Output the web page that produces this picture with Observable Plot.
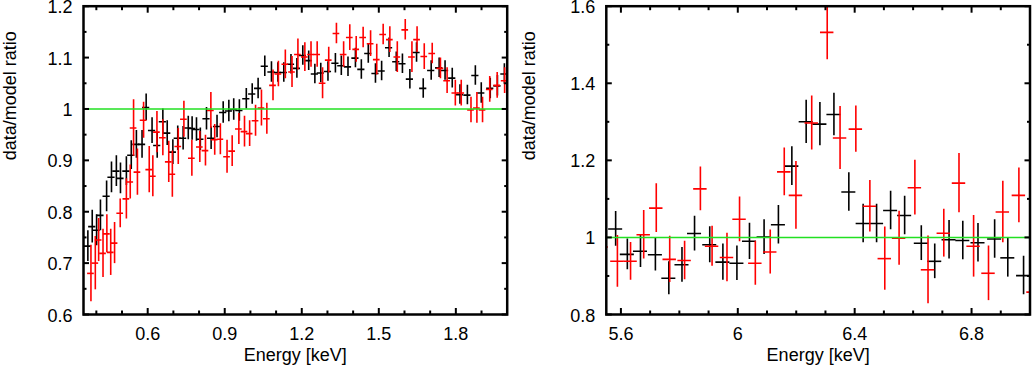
<!DOCTYPE html>
<html>
<head>
<meta charset="utf-8">
<script src="https://cdn.jsdelivr.net/npm/d3@7"></script>
<script src="https://cdn.jsdelivr.net/npm/@observablehq/plot@0.6"></script>
<style>
html, body { margin: 0; padding: 0; background: #fff; }
#wrap { position: relative; width: 1032px; height: 370px; overflow: hidden; background: #fff; }
#wrap svg { position: absolute; top: 0; }
</style>
</head>
<body>
<div id="wrap"></div>
<script>
// ---------- Left panel (0.35–2 keV) ----------
const leftXDomain = [0.35, 2.0];
const leftYDomain = [0.6, 1.2];
const leftXMajor = [0.6, 0.9, 1.2, 1.5, 1.8];
const leftXLabels = ["0.6", "0.9", "1.2", "1.5", "1.8"];
const leftXMinor = [0.4, 0.5, 0.7, 0.8, 1.0, 1.1, 1.3, 1.4, 1.6, 1.7, 1.9];
const leftYMajor = [0.6, 0.7, 0.8, 0.9, 1.0, 1.1, 1.2];
const leftYLabels = ["0.6", "0.7", "0.8", "0.9", "1", "1.1", "1.2"];
const leftYMinor = [0.65, 0.75, 0.85, 0.95, 1.05, 1.15];

const leftBlackE = [0.367,0.384,0.401,0.416,0.440,0.459,0.478,0.494,0.517,0.536,0.556,0.578,
  0.594,0.617,0.637,0.659,0.676,0.698,0.717,0.738,0.758,0.773,
  0.790,0.805,0.829,0.847,0.870,0.894,0.916,0.935,0.957,0.984,
  1.007,1.030,1.056,1.082,1.107,1.130,1.158,1.181,1.204,1.227,
  1.251,1.274,1.302,1.331,1.354,1.380,1.409,1.432,1.459,1.487,
  1.511,1.540,1.568,1.592,1.621,1.647,1.673,1.704,1.735,1.758,
  1.786,1.816,1.845,1.876,1.899,1.934,1.962,1.989];
const leftBlackR = [0.733,0.771,0.764,0.793,0.830,0.867,0.879,0.865,0.879,0.910,0.931,0.931,
  1.003,0.958,0.929,0.975,0.953,0.916,0.943,0.943,0.963,0.962,
  0.960,0.941,0.981,0.943,0.966,0.993,0.996,0.999,0.997,1.020,
  1.029,1.040,1.083,1.072,1.071,1.071,1.087,1.079,1.104,1.094,
  1.068,1.070,1.073,1.089,1.084,1.082,1.099,1.077,1.108,1.069,
  1.074,1.119,1.092,1.088,1.058,1.110,1.040,1.075,1.080,1.075,
  1.060,1.028,1.027,1.065,1.031,1.040,1.045,1.068];
const leftBlackErr = [0.030,0.032,0.030,0.030,0.030,0.030,0.030,0.030,0.028,0.028,0.027,0.027,
  0.026,0.025,0.025,0.025,0.024,0.024,0.024,0.023,0.023,0.023,
  0.023,0.022,0.022,0.022,0.022,0.021,0.021,0.021,0.021,0.020,
  0.020,0.020,0.020,0.020,0.019,0.019,0.019,0.019,0.019,0.019,
  0.019,0.019,0.019,0.019,0.019,0.019,0.019,0.019,0.019,0.019,
  0.019,0.019,0.019,0.019,0.019,0.019,0.019,0.019,0.019,0.019,
  0.019,0.019,0.019,0.019,0.020,0.020,0.020,0.020];
const leftBlackXErr = 0.014;

const leftRedE = [0.379,0.396,0.409,0.426,0.441,0.456,0.471,0.493,0.517,0.532,
  0.545,0.560,0.584,0.606,0.620,0.636,0.659,0.682,0.696,0.719,
  0.741,0.772,0.803,0.825,0.846,0.861,0.883,0.909,0.929,0.955,
  0.977,0.997,1.020,1.043,1.064,1.088,1.109,1.136,1.162,1.185,
  1.212,1.236,1.260,1.281,1.305,1.335,1.363,1.387,1.412,1.439,
  1.468,1.492,1.517,1.543,1.572,1.603,1.629,1.649,1.677,1.708,
  1.740,1.766,1.798,1.821,1.859,1.882,1.904,1.932,1.961,1.990];
const leftRedR = [0.680,0.700,0.745,0.719,0.757,0.721,0.739,0.797,0.825,0.858,
  0.963,0.877,0.978,0.882,0.869,0.955,0.944,0.897,0.873,0.927,
  0.980,0.904,0.926,0.919,0.997,0.940,0.941,0.907,0.918,0.961,
  0.956,0.952,0.977,1.002,0.981,1.046,1.068,1.087,1.072,1.106,
  1.101,1.106,1.106,1.050,1.095,1.147,1.106,1.139,1.116,1.139,
  1.127,1.096,1.145,1.135,1.101,1.154,1.101,1.135,1.102,1.108,
  1.079,1.055,1.031,1.031,0.998,1.002,0.998,1.038,1.046,1.055];
const leftRedErr = [0.055,0.052,0.042,0.047,0.037,0.045,0.040,0.028,0.039,0.033,
  0.055,0.045,0.035,0.045,0.040,0.040,0.035,0.040,0.045,0.035,
  0.035,0.035,0.030,0.030,0.035,0.030,0.030,0.032,0.030,0.030,
  0.030,0.025,0.030,0.035,0.030,0.030,0.025,0.028,0.030,0.030,
  0.028,0.025,0.025,0.030,0.025,0.020,0.025,0.025,0.025,0.020,
  0.025,0.030,0.020,0.025,0.030,0.020,0.030,0.025,0.025,0.020,
  0.020,0.025,0.025,0.025,0.025,0.030,0.025,0.025,0.025,0.025];
const leftRedXErr = 0.013;

// ---------- Right panel (5.55–7 keV) ----------
const rightXDomain = [5.55, 7.0];
const rightYDomain = [0.8, 1.6];
const rightXMajor = [5.6, 6.0, 6.4, 6.8];
const rightXLabels = ["5.6", "6", "6.4", "6.8"];
const rightXMinor = [5.7, 5.8, 5.9, 6.1, 6.2, 6.3, 6.5, 6.6, 6.7, 6.9];
const rightYMajor = [0.8, 1.0, 1.2, 1.4, 1.6];
const rightYLabels = ["0.8", "1", "1.2", "1.4", "1.6"];
const rightYMinor = [0.9, 1.1, 1.3, 1.5];

const rightBlackE = [5.582,5.622,5.667,5.718,5.764,5.809,5.852,5.904,5.949,5.997,
  6.040,6.090,6.139,6.185,6.234,6.281,6.329,6.380,6.429,6.475,
  6.523,6.571,6.628,6.674,6.723,6.770,6.822,6.879,6.924,6.978];
const rightBlackR = [1.022,0.956,0.964,0.955,0.894,0.929,1.010,0.981,0.936,0.933,
  0.990,1.001,1.033,1.185,1.300,1.294,1.319,1.118,1.036,1.036,
  1.070,1.057,0.985,0.938,0.994,0.992,0.986,0.996,0.947,0.901];
const rightBlackErr = [0.045,0.040,0.042,0.042,0.043,0.045,0.045,0.047,0.047,0.045,
  0.047,0.045,0.050,0.050,0.056,0.056,0.055,0.050,0.050,0.050,
  0.050,0.050,0.045,0.045,0.050,0.050,0.050,0.050,0.050,0.050];
const rightBlackXErr = 0.024;

const rightRedE = [5.534,5.588,5.633,5.678,5.721,5.767,5.818,5.872,5.912,5.963,
  6.006,6.060,6.111,6.159,6.199,6.253,6.306,6.350,6.404,6.452,
  6.503,6.552,6.606,6.651,6.705,6.757,6.807,6.858,6.907,6.962,7.012];
const rightRedR = [0.975,0.938,0.938,1.007,1.076,0.943,0.940,1.126,0.977,0.948,
  1.047,0.933,0.962,1.170,1.109,1.297,1.532,1.258,1.281,1.081,
  0.945,0.998,1.129,0.916,1.011,1.141,0.977,0.907,1.066,1.109,0.858];
const rightRedErr = [0.050,0.067,0.049,0.063,0.063,0.060,0.050,0.057,0.052,0.063,
  0.058,0.057,0.057,0.062,0.088,0.070,0.071,0.082,0.060,0.067,
  0.082,0.070,0.071,0.088,0.062,0.077,0.080,0.071,0.080,0.071,0.070];
const rightRedXErr = 0.023;

const refLevel = [1];
const xTitle = "Energy [keV]";
const yTitle = "data/model ratio";

// ---------- drawing ----------
const BLACK = "#000000";
const RED = "#ff0000";
const GREEN = "#22e022";
const FONT = "'Liberation Sans', Arial, Helvetica, sans-serif";

function rows(E, R, Err) {
  return E.map((e, i) => ({e, r: R[i], err: Err[i]}));
}

function crosses(data, xe, color) {
  return [
    Plot.ruleY(data, {y: "r", x1: d => d.e - xe, x2: d => d.e + xe, stroke: color, strokeWidth: 1.6, clip: true}),
    Plot.ruleX(data, {x: "e", y1: d => d.r - d.err, y2: d => d.r + d.err, stroke: color, strokeWidth: 1.6, clip: true})
  ];
}

function panel(o) {
  const xfmt = d => o.xLabels[o.xMajor.indexOf(d)];
  const yfmt = d => o.yLabels[o.yMajor.indexOf(d)];
  return Plot.plot({
    width: 516,
    height: 370,
    marginLeft: o.marginLeft,
    marginRight: o.marginRight,
    marginTop: 5.7,
    marginBottom: 56,
    style: {fontFamily: FONT, fontSize: "18px", color: "#000", background: "white", overflow: "visible"},
    x: {domain: o.xDomain, label: null},
    y: {domain: o.yDomain, label: null},
    marks: [
      ...crosses(o.black, o.xeB, BLACK),
      ...crosses(o.red, o.xeR, RED),
      Plot.ruleY(refLevel, {stroke: GREEN, strokeWidth: 1.6}),
      Plot.frame({stroke: BLACK, strokeWidth: 2.5}),
      // tick marks (inward, mirrored on all sides)
      Plot.axisX(o.xMajor, {anchor: "bottom", tickSize: -6, strokeWidth: 2, fill: "none"}),
      Plot.axisX(o.xMajor, {anchor: "top", tickSize: -6, strokeWidth: 2, fill: "none"}),
      Plot.axisX(o.xMinor, {anchor: "bottom", tickSize: -3.5, strokeWidth: 2, fill: "none"}),
      Plot.axisX(o.xMinor, {anchor: "top", tickSize: -3.5, strokeWidth: 2, fill: "none"}),
      Plot.axisY(o.yMajor, {anchor: "left", tickSize: -6, strokeWidth: 2, fill: "none"}),
      Plot.axisY(o.yMajor, {anchor: "right", tickSize: -6, strokeWidth: 2, fill: "none"}),
      Plot.axisY(o.yMinor, {anchor: "left", tickSize: -3.5, strokeWidth: 2, fill: "none"}),
      Plot.axisY(o.yMinor, {anchor: "right", tickSize: -3.5, strokeWidth: 2, fill: "none"}),
      // tick labels
      Plot.axisX(o.xMajor, {anchor: "bottom", tickSize: 0, tickPadding: 12.7, tickFormat: xfmt, fontSize: 18}),
      Plot.axisY(o.yMajor, {anchor: "left", tickSize: 0, tickPadding: 11, dy: 1.3, tickFormat: yfmt, fontSize: 18}),
      // axis titles
      Plot.text([xTitle], {text: d => d, frameAnchor: "bottom", dy: 46, fontSize: 18, fill: BLACK}),
      Plot.text([yTitle], {text: d => d, frameAnchor: "left", rotate: -90, dx: o.yTitleDx, fontSize: 18, fill: BLACK})
    ]
  });
}

const left = panel({
  xDomain: leftXDomain, yDomain: leftYDomain,
  xMajor: leftXMajor, xLabels: leftXLabels, xMinor: leftXMinor,
  yMajor: leftYMajor, yLabels: leftYLabels, yMinor: leftYMinor,
  black: rows(leftBlackE, leftBlackR, leftBlackErr), xeB: leftBlackXErr,
  red: rows(leftRedE, leftRedR, leftRedErr), xeR: leftRedXErr,
  marginLeft: 83, marginRight: 9.3, yTitleDx: -73.3
});
const right = panel({
  xDomain: rightXDomain, yDomain: rightYDomain,
  xMajor: rightXMajor, xLabels: rightXLabels, xMinor: rightXMinor,
  yMajor: rightYMajor, yLabels: rightYLabels, yMinor: rightYMinor,
  black: rows(rightBlackE, rightBlackR, rightBlackErr), xeB: rightBlackXErr,
  red: rows(rightRedE, rightRedR, rightRedErr), xeR: rightRedXErr,
  marginLeft: 89.8, marginRight: 2.5, yTitleDx: -76.6
});
left.style.left = "0px";
right.style.left = "516px";
const wrap = document.getElementById("wrap");
wrap.appendChild(left);
wrap.appendChild(right);
</script>
</body>
</html>
